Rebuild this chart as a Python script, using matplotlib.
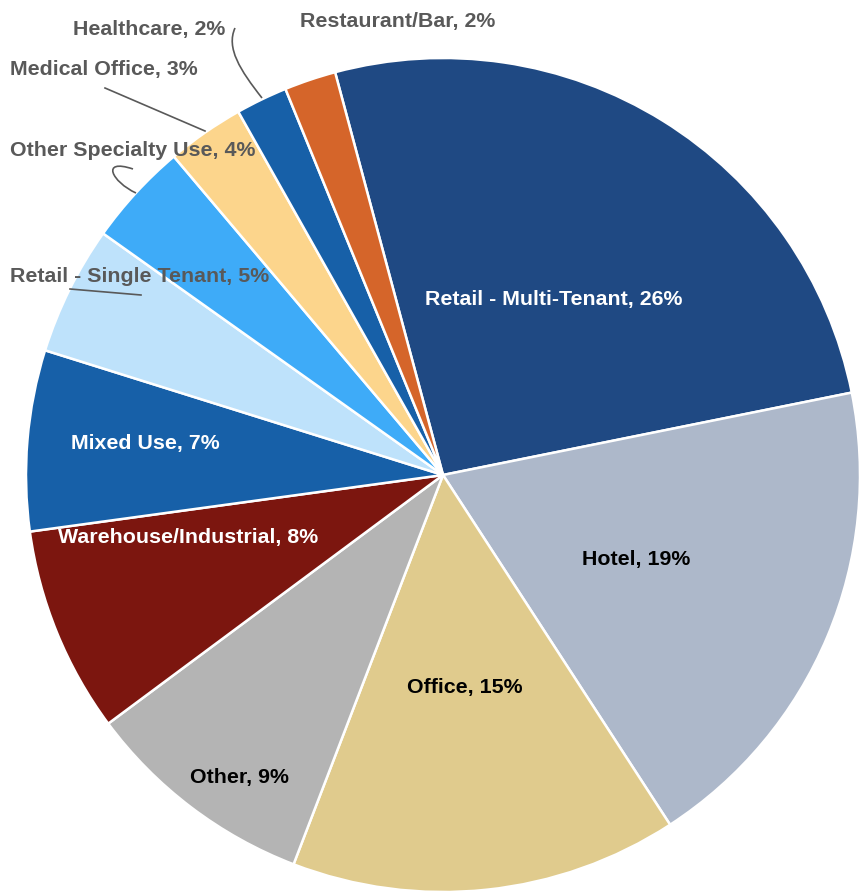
import matplotlib

matplotlib.use("Agg")
import matplotlib.pyplot as plt
from matplotlib.path import Path
from matplotlib.patches import PathPatch

plt.rcParams["font.family"] = ["Liberation Sans", "DejaVu Sans"]

categories = [
    "Retail - Multi-Tenant", "Hotel", "Office", "Other", "Warehouse/Industrial",
    "Mixed Use", "Retail - Single Tenant", "Other Specialty Use", "Medical Office",
    "Healthcare", "Restaurant/Bar",
]
shares = [26, 19, 15, 9, 8, 7, 5, 4, 3, 2, 2]
colors = [
    "#1F4983", "#ADB8CA", "#E0CB8D", "#B4B4B4", "#7C160F",
    "#1760A8", "#BEE2FB", "#3EABF8", "#FCD58C", "#1760A8", "#D5652A",
]

W, H = 860, 892
GRAY = "#595959"
FS = 15.4


def px(x, y):
    """Pixel coords (top-left origin) -> data coords."""
    return x, H - y


fig = plt.figure(figsize=(W / 100, H / 100), dpi=100)
ax = fig.add_axes([0, 0, 1, 1])

ax.pie(
    shares, colors=colors, startangle=105, counterclock=False,
    center=px(443, 475), radius=417, frame=True,
    wedgeprops=dict(edgecolor="white", linewidth=1.8),
)
ax.set_xlim(0, W)
ax.set_ylim(0, H)
ax.set_aspect("equal")
ax.axis("off")

labels = [f"{c}, {v}%" for c, v in zip(categories, shares)]

# inside labels: (index, center pixel, color)
inside = [
    (0, (554, 300), "white"),
    (1, (636, 559), "black"),
    (2, (465, 687), "black"),
    (3, (239, 777), "black"),
    (4, (188, 538), "white"),
    (5, (145, 443), "white"),
]
for i, (x, y), col in inside:
    ax.text(*px(x, y), labels[i], color=col, fontsize=FS, fontweight="bold",
            ha="center", va="center")

# outside labels: (index, left pixel, y pixel)
outside = [
    (6, 10, 276),
    (7, 10, 150),
    (8, 10, 70),
    (9, 73, 30),
    (10, 300, 22),
]
for i, x, y in outside:
    ax.text(*px(x, y), labels[i], color=GRAY, fontsize=FS, fontweight="bold",
            ha="left", va="center")

# leader lines
ax.plot(*zip(px(105, 88), px(205, 131)), color=GRAY, lw=1.2)
ax.plot(*zip(px(70, 289), px(141, 295)), color=GRAY, lw=1.2)
for pts in ([(235, 28), (226, 48), (240, 70), (262, 98)],
            [(133, 169), (100, 158), (112, 182), (136, 193)]):
    path = Path([px(*p) for p in pts], [Path.MOVETO, Path.CURVE4, Path.CURVE4, Path.CURVE4])
    ax.add_patch(PathPatch(path, fill=False, edgecolor=GRAY, lw=1.2))

fig.savefig("out.png", dpi=100)
